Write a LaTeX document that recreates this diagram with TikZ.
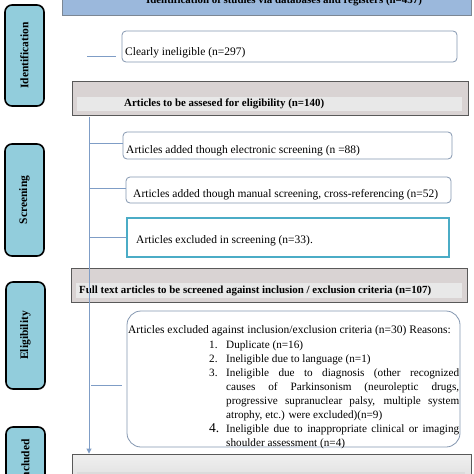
\documentclass[tikz,border=0pt]{standalone}
\usepackage{fontspec}
\setmainfont{Liberation Serif}
\usetikzlibrary{arrows.meta}
\definecolor{labblue}{HTML}{92CDDC}
\definecolor{topblue}{HTML}{9BB8DC}
\definecolor{topline}{HTML}{7C8794}
\definecolor{grayfill}{HTML}{D9D3D3}
\definecolor{bandfill}{HTML}{E8E8E8}
\definecolor{boxline}{HTML}{8497B0}
\definecolor{tealline}{HTML}{4BACC6}
\definecolor{conncol}{HTML}{7F9DC6}
\tikzset{
 lab/.style={draw=black, line width=1.6pt, fill=labblue, rounded corners=7pt, rotate=90, font=\bfseries\fontsize{11.5}{13}\selectfont, inner sep=0},
 topbox/.style={draw=topline, line width=0.9pt, fill=topblue, inner sep=0},
 wbox/.style={draw=boxline, line width=0.8pt, rounded corners=4pt, fill=white, inner sep=0},
 tbox/.style={draw=tealline, line width=1.6pt, fill=white, inner sep=0},
 gbox/.style={draw=black!65, line width=0.9pt, fill=grayfill, inner sep=0},
 band/.style={fill=bandfill, inner sep=0},
 txt/.style={font=\fontsize{11.5}{14}\selectfont, inner sep=0},
 ltxt/.style={font=\fontsize{11.2}{14}\selectfont, inner sep=0},
 btxt/.style={font=\bfseries\fontsize{10.9}{12}\selectfont, inner sep=0},
 conn/.style={draw=conncol, line width=0.9pt},
}
\begin{document}
\begin{tikzpicture}[x=1pt,y=-1pt]
\useasboundingbox (0,0) rectangle (474,474);
\clip (0,0) rectangle (474,474);
\fill[white] (0,0) rectangle (474,474);

% side labels
\node[lab, minimum width=101pt, minimum height=39pt] (lid) at (24.5,55.5) {Identification};
\node[lab, minimum width=112pt, minimum height=39pt] (lsc) at (24.5,200) {Screening};
\node[lab, minimum width=107pt, minimum height=39pt] (lel) at (25.5,335.5) {Eligibility};
\node[lab, minimum width=68pt, minimum height=39pt] (lin) at (25.5,461) {Included};

% top box
\node[topbox, minimum width=409pt, minimum height=35pt] (top) at (266.5,-2.5) {};
\node[btxt, anchor=base] (topt) at (284,3) {Identification of studies via databases and registers (n=437)};

% clearly ineligible
\node[wbox, minimum width=335pt, minimum height=31pt] (clr) at (289.5,46.5) {};
\node[txt, anchor=west] (clrt) at (125,53) {Clearly ineligible (n=297)};

% articles to be assessed
\node[gbox, minimum width=396pt, minimum height=34pt] (ga) at (270,98) {};
\node[band, minimum width=385pt, minimum height=14pt] (gab) at (269.5,104) {};
\node[btxt, anchor=west] (gat) at (124,104) {Articles to be assesed for eligibility (n=140)};

% screening boxes
\node[wbox, minimum width=329pt, minimum height=27pt] (ele) at (287.5,145.5) {};
\node[txt, anchor=west] (elet) at (126,151) {Articles added though electronic screening (n =88)};
\node[wbox, minimum width=325pt, minimum height=26pt] (man) at (288.5,190) {};
\node[txt, anchor=west] (mant) at (133,195) {Articles added though manual screening, cross-referencing (n=52)};
\node[tbox, minimum width=322pt, minimum height=39pt] (exs) at (288,237.5) {};
\node[txt, anchor=west] (exst) at (136,241) {Articles excluded in screening (n=33).};

% full text box
\node[gbox, minimum width=396pt, minimum height=34pt] (gf) at (269,285) {};
\node[band, minimum width=386pt, minimum height=15pt] (gfb) at (269,290.5) {};
\node[btxt, anchor=west] (gft) at (79,290.5) {Full text articles to be screened against inclusion / exclusion criteria (n=107)};

% big exclusion box
\node[wbox, rounded corners=14pt, minimum width=333pt, minimum height=136pt] (big) at (293.5,379) {};
\node[txt] (bh) at (289.5,331) {Articles excluded against inclusion/exclusion criteria (n=30) Reasons:};
\node[ltxt, text width=250pt, align=justify, anchor=north west] (bl) at (209,338.2) {%
\parindent=0pt\hyphenpenalty=10000\exhyphenpenalty=10000\emergencystretch=20pt
\hangindent=17pt\hangafter=1\noindent\strut\makebox[17pt][l]{1.}Duplicate (n=16)\par
\hangindent=17pt\hangafter=1\noindent\makebox[17pt][l]{2.}Ineligible due to language (n=1)\par
\hangindent=17pt\hangafter=1\noindent\makebox[17pt][l]{3.}Ineligible due to diagnosis (other recognized\linebreak causes of Parkinsonism (neuroleptic drugs,\linebreak progressive supranuclear palsy, multiple system\linebreak atrophy, etc.) were excluded)(n=9)\par
\hangindent=17pt\hangafter=1\noindent\makebox[17pt][l]{\fontsize{13.5}{14}\selectfont 4.}Ineligible due to inappropriate clinical or imaging\linebreak shoulder assessment (n=4)\par}; 

% bottom box
\node[draw=black!65, line width=0.9pt, top color=white!94!black, bottom color=white!78!black, inner sep=0, minimum width=399pt, minimum height=66pt] (gb) at (271.5,487) {};
\node[fill=white!86!black, inner sep=0, minimum width=388pt, minimum height=18pt] (gbb) at (271,481) {};

% connectors
\coordinate (cid) at (87,56);
\draw[conn] (cid) -- (cid -| clr.west) [shorten >=6pt];
\coordinate (tt) at (89,117);
\draw[conn, -{Triangle[width=5pt,length=5pt]}] (tt) -- (tt |- gb.north);
\coordinate (b1) at (89,143);
\coordinate (b2) at (89,188);
\coordinate (b3) at (89,237);
\coordinate (b4) at (91,385);
\draw[conn] (b1) -- (b1 -| ele.west);
\draw[conn] (b2) -- (b2 -| man.west);
\draw[conn] (b3) -- (b3 -| exs.west);
\draw[conn, shorten >=5pt] (b4) -- (b4 -| big.west);
\end{tikzpicture}
\end{document}
